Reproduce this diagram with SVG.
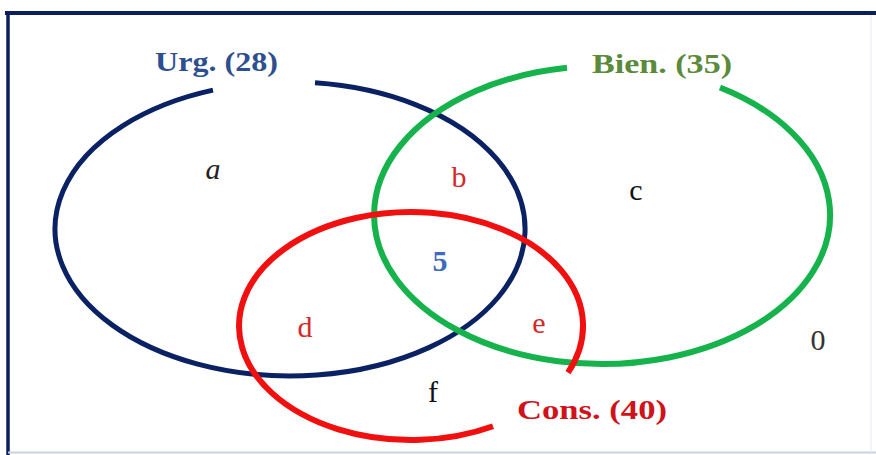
<svg xmlns="http://www.w3.org/2000/svg" width="876" height="455" viewBox="0 0 876 455">
  <style>
    .set { fill: none; stroke-linecap: butt; }
    .title { font-family: "Liberation Serif", "Times New Roman", serif; font-weight: bold; font-size: 28px; }
    .lbl { font-family: "Liberation Serif", "Times New Roman", serif; font-size: 30px; text-anchor: middle; }
  </style>
  <rect width="876" height="455" fill="#ffffff"/>
  <g id="frame">
    <line x1="5" y1="13" x2="876" y2="13" stroke="#0b1f5c" stroke-width="4"/>
    <line x1="8" y1="11" x2="8" y2="455" stroke="#0b1f5c" stroke-width="3.5"/>
    <line x1="8" y1="452.5" x2="876" y2="452.5" stroke="#c9d2e0" stroke-width="2"/>
    <line x1="871" y1="15" x2="871" y2="452" stroke="#eef0f4" stroke-width="1.5"/>
  </g>
  <g id="urg">
    <path class="set" d="M 315 82.8 A 235 147 0 1 1 213 90.1" stroke="#0a2263" stroke-width="5"/>
    <text class="title" x="155" y="71" fill="#2e4f8f" textLength="123" lengthAdjust="spacingAndGlyphs">Urg. (28)</text>
  </g>
  <g id="bien">
    <path class="set" d="M 720 87.5 A 228 149 0 1 1 567 67.8" stroke="#16b24c" stroke-width="6"/>
    <text class="title" x="592" y="73" fill="#5a8a3a" textLength="140" lengthAdjust="spacingAndGlyphs">Bien. (35)</text>
  </g>
  <g id="cons">
    <path class="set" d="M 568 372.6 A 172 114 0 1 0 493 426.2" stroke="#f01010" stroke-width="6"/>
    <text class="title" x="517" y="419" fill="#d0121b" textLength="150" lengthAdjust="spacingAndGlyphs">Cons. (40)</text>
  </g>
  <g id="regions">
    <text class="lbl" x="213" y="179" fill="#222222" font-style="italic">a</text>
    <text class="lbl" x="459" y="187" fill="#d42a2a">b</text>
    <text class="lbl" x="636" y="200" fill="#111111">c</text>
    <text class="lbl" x="440" y="271" fill="#3f6bbf" font-weight="bold">5</text>
    <text class="lbl" x="305" y="337" fill="#d42a2a">d</text>
    <text class="lbl" x="539" y="333" fill="#d42a2a">e</text>
    <text class="lbl" x="433" y="402" fill="#111111">f</text>
    <text class="lbl" x="818" y="350" fill="#333333" font-family="Liberation Sans, Arial, sans-serif" font-size="28">0</text>
  </g>
  <g id="connectors"></g>
</svg>
